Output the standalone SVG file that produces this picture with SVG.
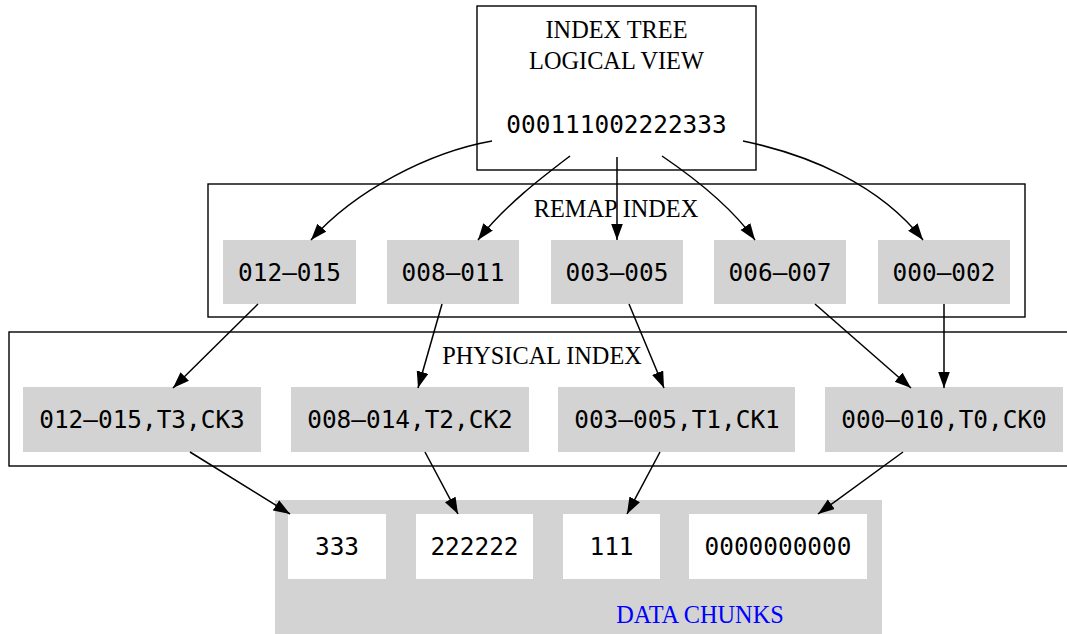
<svg xmlns="http://www.w3.org/2000/svg" width="1067" height="634" viewBox="0 0 1067 634">
  <style>
    .frame { fill: #ffffff; stroke: #000000; stroke-width: 1.4; }
    .cell { fill: #d3d3d3; stroke: none; }
    .chunk { fill: #ffffff; stroke: none; }
    .title { font-family: "Liberation Serif", "Times New Roman", serif; font-size: 24.3px; fill: #000000; text-anchor: middle; }
    .mono { font-family: "DejaVu Sans Mono", monospace; font-size: 24.4px; fill: #000000; text-anchor: middle; }
    .edge { fill: none; stroke: #000000; stroke-width: 1.5; marker-end: url(#arrow); }
  </style>
  <defs>
    <marker id="arrow" markerUnits="userSpaceOnUse" markerWidth="18" markerHeight="13" refX="16.5" refY="6" orient="auto">
      <path d="M0,0 L16.5,6 L0,12 z" fill="#000000"/>
    </marker>
  </defs>

  <rect width="1067" height="634" fill="#ffffff"/>

  <!-- logical view -->
  <g id="index-tree">
    <rect class="frame" x="477" y="6" width="279" height="164"/>
    <text class="title" x="616.5" y="38">INDEX TREE</text>
    <text class="title" x="616.5" y="69">LOGICAL VIEW</text>
    <text class="mono" x="616.5" y="133">000111002222333</text>
  </g>

  <!-- remap index cluster -->
  <g id="remap-index">
    <rect class="frame" x="208" y="184" width="817" height="133"/>
    <text class="title" x="616" y="217">REMAP INDEX</text>
    <g id="remap-012-015">
      <rect class="cell" x="223" y="240" width="133" height="64"/>
      <text class="mono" x="289.5" y="281">012–015</text>
    </g>
    <g id="remap-008-011">
      <rect class="cell" x="387" y="240" width="132" height="64"/>
      <text class="mono" x="453" y="281">008–011</text>
    </g>
    <g id="remap-003-005">
      <rect class="cell" x="551" y="240" width="132" height="64"/>
      <text class="mono" x="617" y="281">003–005</text>
    </g>
    <g id="remap-006-007">
      <rect class="cell" x="714" y="240" width="132" height="64"/>
      <text class="mono" x="780" y="281">006–007</text>
    </g>
    <g id="remap-000-002">
      <rect class="cell" x="878" y="240" width="132" height="64"/>
      <text class="mono" x="944" y="281">000–002</text>
    </g>
  </g>

  <!-- physical index cluster -->
  <g id="physical-index">
    <rect class="frame" x="9" y="332" width="1080" height="134"/>
    <text class="title" x="542" y="364">PHYSICAL INDEX</text>
    <g id="phys-t3">
      <rect class="cell" x="23" y="387" width="238" height="65"/>
      <text class="mono" x="142" y="428">012–015,T3,CK3</text>
    </g>
    <g id="phys-t2">
      <rect class="cell" x="291" y="387" width="238" height="65"/>
      <text class="mono" x="410" y="428">008–014,T2,CK2</text>
    </g>
    <g id="phys-t1">
      <rect class="cell" x="558" y="387" width="237" height="65"/>
      <text class="mono" x="677" y="428">003–005,T1,CK1</text>
    </g>
    <g id="phys-t0">
      <rect class="cell" x="825" y="387" width="238" height="65"/>
      <text class="mono" x="944" y="428">000–010,T0,CK0</text>
    </g>
  </g>

  <!-- data chunks cluster -->
  <g id="data-chunks">
    <rect class="cell" x="275" y="500" width="607" height="140"/>
    <text class="title" x="700" y="623" style="fill:#0000ff">DATA CHUNKS</text>
    <g id="chunk-3">
      <rect class="chunk" x="288" y="514" width="98" height="65"/>
      <text class="mono" x="337" y="555">333</text>
    </g>
    <g id="chunk-2">
      <rect class="chunk" x="416" y="514" width="117" height="65"/>
      <text class="mono" x="474.5" y="555">222222</text>
    </g>
    <g id="chunk-1">
      <rect class="chunk" x="563" y="514" width="97" height="65"/>
      <text class="mono" x="611.5" y="555">111</text>
    </g>
    <g id="chunk-0">
      <rect class="chunk" x="689" y="514" width="178" height="65"/>
      <text class="mono" x="778" y="555">0000000000</text>
    </g>
  </g>

  <!-- connectors -->
  <g id="connectors">
    <path class="edge" d="M492,141 C430,152 355,190 311,240"/>
    <path class="edge" d="M570,156 C545,175 505,205 478,240"/>
    <path class="edge" d="M617,157 L617,240"/>
    <path class="edge" d="M662,156 C690,175 730,205 755,240"/>
    <path class="edge" d="M743,141 C810,155 880,185 923,240"/>

    <path class="edge" d="M258,304 L173,388"/>
    <path class="edge" d="M442,304 L418,388"/>
    <path class="edge" d="M629,304 L664,388"/>
    <path class="edge" d="M815,304 L911,388"/>
    <path class="edge" d="M944,304 L944,388"/>

    <path class="edge" d="M190,452 L290,514"/>
    <path class="edge" d="M425,452 L458,514"/>
    <path class="edge" d="M660,452 L627,514"/>
    <path class="edge" d="M903,452 L818,514"/>
  </g>
</svg>
